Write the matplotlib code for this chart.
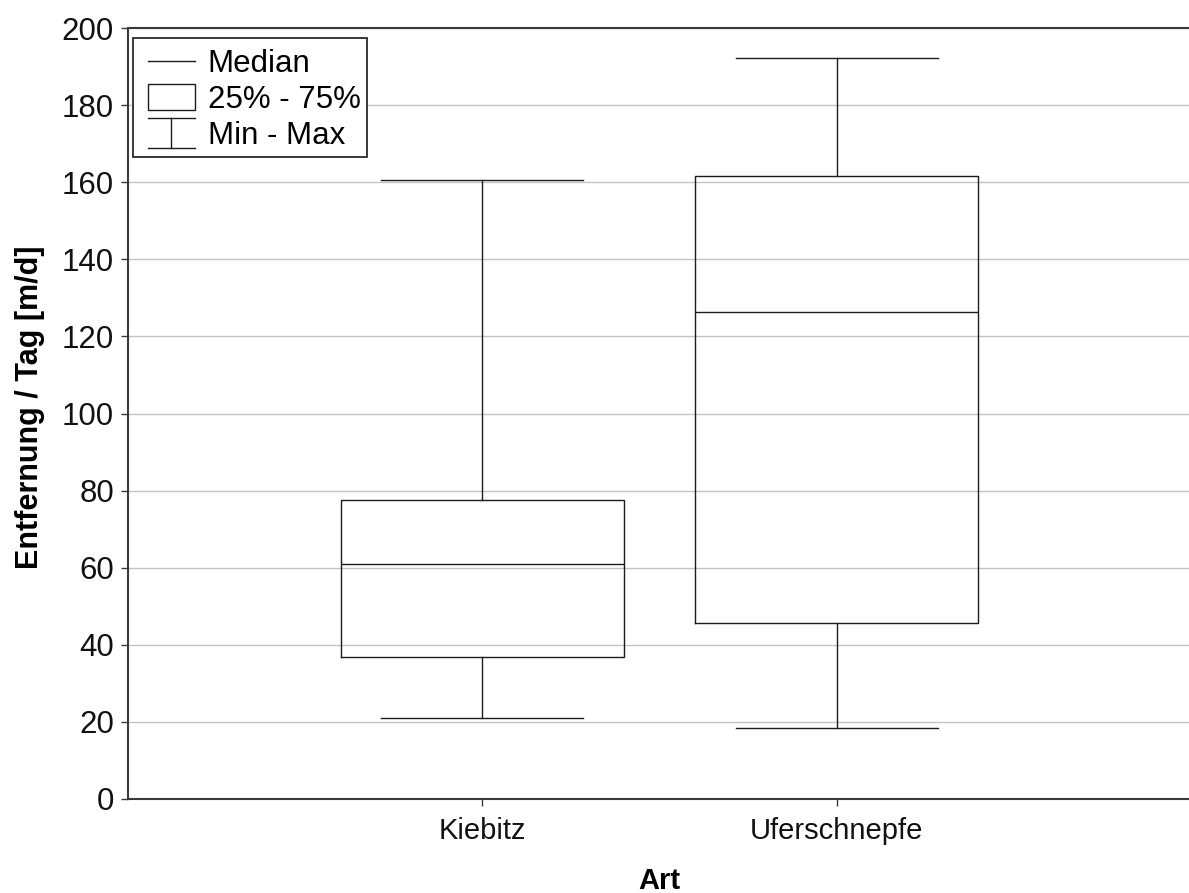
import matplotlib
matplotlib.use("Agg")
import matplotlib.pyplot as plt
from matplotlib.lines import Line2D
from matplotlib.patches import Rectangle
from matplotlib.legend_handler import HandlerBase

plt.rcParams['font.family'] = ['Liberation Sans', 'DejaVu Sans']

# Distance per day summary statistics (m/d) for each species
species = ["Kiebitz", "Uferschnepfe"]
min_vals = [20.9, 18.4]
q1_vals = [36.8, 45.7]
median_vals = [61.0, 126.2]
q3_vals = [77.6, 161.6]
max_vals = [160.6, 192.2]

y_ticks = [0, 20, 40, 60, 80, 100, 120, 140, 160, 180, 200]

W, H = 1189, 893
fig = plt.figure(figsize=(W / 100, H / 100), dpi=100)
ax_left, ax_right, ax_top, ax_bottom = 128, 1191, 28, 799
ax = fig.add_axes([ax_left / W, 1 - ax_bottom / H,
                   (ax_right - ax_left) / W, (ax_bottom - ax_top) / H])

line_col = "#1c1c1c"
stats = []
for i, name in enumerate(species):
    stats.append(dict(label=name, whislo=min_vals[i], q1=q1_vals[i],
                      med=median_vals[i], q3=q3_vals[i], whishi=max_vals[i]))

positions = list(range(1, len(species) + 1))
lw = 1.0
ax.bxp(stats, positions=positions, widths=0.8, capwidths=0.57,
       showfliers=False, patch_artist=False,
       boxprops=dict(color=line_col, linewidth=lw),
       medianprops=dict(color=line_col, linewidth=lw),
       whiskerprops=dict(color=line_col, linewidth=lw),
       capprops=dict(color=line_col, linewidth=lw))

ax.set_xlim(0, 3)
ax.set_ylim(0, 200)
ax.set_yticks(y_ticks)
ax.set_xticks(positions)
ax.set_xticklabels(species)
ax.yaxis.grid(True, color="#c4c4c4", linewidth=1.0)
ax.set_axisbelow(True)

for side in ["top", "bottom", "left"]:
    ax.spines[side].set_color("#3a3a3a")
    ax.spines[side].set_linewidth(1.5)
ax.spines["right"].set_visible(False)

ax.tick_params(axis="both", direction="out", length=5, width=1.0,
               color="#3a3a3a", pad=5, labelcolor="#111111")
ax.tick_params(axis="x", labelsize=21, pad=8)
ax.tick_params(axis="y", labelsize=22.5, pad=5)

ax.set_ylabel("Entfernung / Tag [m/d]", fontsize=22, fontweight="bold")
ax.yaxis.set_label_coords(30 / W, 1 - 407 / H, transform=fig.transFigure)
ax.set_xlabel("Art", fontsize=21, fontweight="bold")
ax.xaxis.set_label_coords(0.5 * (ax_left + ax_right) / W, 1 - 881 / H,
                          transform=fig.transFigure)
ax.xaxis.label.set_verticalalignment("center")
ax.yaxis.label.set_verticalalignment("center")

# Legend keys are drawn with a small left inset inside their handle box
INSET = 6.5   # points
DROP = -0.3   # points, puts the keys level with the middle of the capitals


class HandlerKey(HandlerBase):
    def __init__(self, kind):
        super().__init__()
        self.kind = kind

    def create_artists(self, legend, orig_handle, xdescent, ydescent,
                       width, height, fontsize, trans):
        x0 = -xdescent + INSET
        x1 = -xdescent + width
        xc = (x0 + x1) / 2
        yc = height / 2 - ydescent - DROP
        kw = dict(color=line_col, linewidth=1.0, transform=trans)
        if self.kind == "median":
            return [Line2D([x0, x1], [yc, yc], **kw)]
        if self.kind == "box":
            hh = 9.4
            return [Rectangle((x0, yc - hh), x1 - x0, 2 * hh,
                              facecolor="white", edgecolor=line_col,
                              linewidth=1.0, transform=trans)]
        half = 10.5
        return [Line2D([x0, x1], [yc + half, yc + half], **kw),
                Line2D([x0, x1], [yc - half, yc - half], **kw),
                Line2D([xc, xc], [yc - half, yc + half], **kw)]


class MedianKey:
    pass


class BoxKey:
    pass


class RangeKey:
    pass


leg = ax.legend([MedianKey(), BoxKey(), RangeKey()],
                ["Median", "25% - 75%", "Min - Max"],
                handler_map={MedianKey: HandlerKey("median"),
                             BoxKey: HandlerKey("box"),
                             RangeKey: HandlerKey("range")},
                loc="upper left",
                bbox_to_anchor=(133 / W, 1 - 38 / H),
                bbox_transform=fig.transFigure,
                borderaxespad=0, fontsize=22.5, handlelength=1.77,
                handleheight=1.3, labelspacing=0.05, handletextpad=0.42,
                borderpad=0.2, fancybox=False, framealpha=1,
                edgecolor="#2a2a2a")
leg.get_frame().set_linewidth(1.3)

fig.savefig("out.png", dpi=100, facecolor="white")
